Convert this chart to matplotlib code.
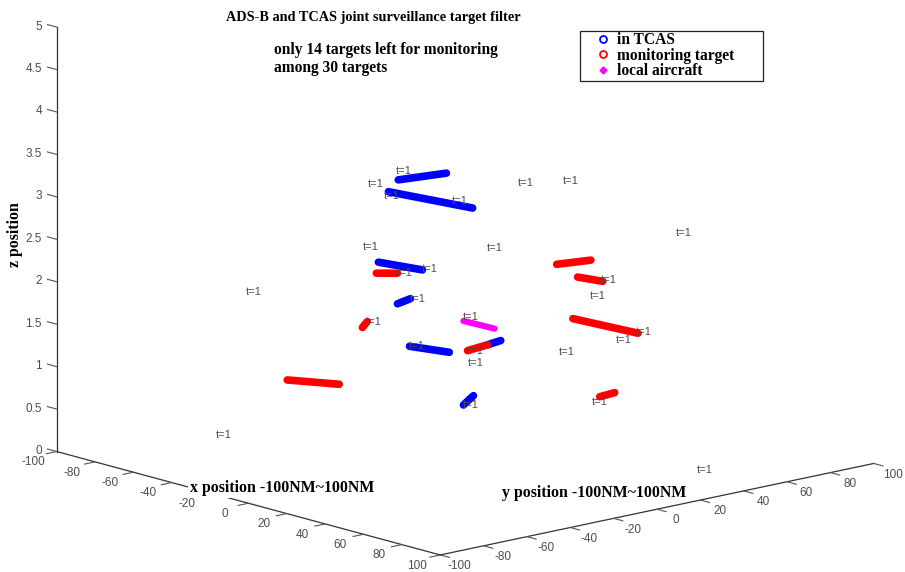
import matplotlib
matplotlib.use("Agg")
import matplotlib.pyplot as plt
from matplotlib.lines import Line2D
from matplotlib.patches import Rectangle

plt.rcParams["axes.unicode_minus"] = False

W, H = 905, 572

title = "ADS-B and TCAS joint surveillance target filter"
note = ["only 14 targets left for monitoring", "among 30 targets"]
legend_labels = ["in TCAS", "monitoring target", "local aircraft"]

x_ticks = [-100, -80, -60, -40, -20, 0, 20, 40, 60, 80, 100]
y_ticks = [-100, -80, -60, -40, -20, 0, 20, 40, 60, 80, 100]
z_ticks = [0, 0.5, 1, 1.5, 2, 2.5, 3, 3.5, 4, 4.5, 5]
z_tick_labels = ["0", "0.5", "1", "1.5", "2", "2.5", "3", "3.5", "4", "4.5", "5"]

# tracks: start and end of each target
blue_x = [(-20.9, -9.8), (-23.2, -3.7), (-25.5, -15.3), (-21.1, -18.1), (-18.3, -9.1), (-0.2, 2.8), (-5.8, -3.5)]
blue_y = [(-12.4, 0.0), (-14.9, 6.7), (-17.5, -6.2), (-12.6, -9.3), (-9.5, 0.7), (10.5, 13.9), (4.3, 6.9)]
blue_z = [(3.21, 3.29), (3.07, 2.88), (2.24, 2.15), (1.75, 1.81), (1.25, 1.18), (1.27, 1.32), (0.56, 0.67)]

red_x = [(-26.0, -21.1), (-29.2, -28.1), (-4.9, -0.2), (-46.6, -34.6), (15.8, 23.7), (20.6, 26.4), (19.5, 34.6), (25.7, 29.2)]
red_y = [(-18.0, -12.6), (-21.6, -20.3), (5.4, 10.5), (-40.9, -27.5), (28.2, 37.0), (33.6, 40.1), (32.4, 49.1), (39.3, 43.1)]
red_z = [(2.11, 2.11), (1.47, 1.54), (1.20, 1.27), (0.85, 0.80), (2.22, 2.27), (2.07, 2.02), (1.58, 1.41), (0.66, 0.71)]

local_x = [-5.8, 1.4]
local_y = [4.3, 12.3]
local_z = [1.55, 1.46]

# "t=1" labels
label_x = [-19.7, -26.2, -22.5, -6.7, 8.6, 19.0, 45.2, -27.2, 1.4, -54.3, -13.7, -19.5, -16.5, -26.7,
           -4.2, -16.7, -3.0, -3.0, -4.2, 27.8, 25.3, 36.0, 31.3, 18.1, 25.7, -61.3, 87.2]
label_y = [-11.1, -18.3, -14.2, 3.3, 20.3, 31.8, 60.9, -19.3, 12.3, -49.4, -4.4, -10.8, -7.5, -18.8,
           6.1, -7.7, 7.4, 7.4, 6.1, 41.6, 38.8, 50.6, 45.5, 30.8, 39.3, -57.1, 33.4]
label_z = [3.31, 3.16, 3.02, 2.96, 3.18, 3.20, 2.59, 2.42, 2.41, 1.88, 2.16, 2.11, 1.81, 1.53,
           1.60, 1.25, 1.20, 1.05, 0.56, 2.04, 1.85, 1.42, 1.33, 1.19, 0.60, 0.20, 0.20]

serif = "Liberation Serif"
sans = "Liberation Sans"
gray = "#4d4d4d"

fig = plt.figure(figsize=(W / 100, H / 100), dpi=100, facecolor="white")
ax = fig.add_axes([5 / W, 33 / H, 1, 1], projection="3d", computed_zorder=False)
ax.set_proj_type("ortho")
ax.view_init(elev=13.8, azim=-41.5)
ax.set_box_aspect((1, 1, 0.755), zoom=1.575)
ax.set_facecolor("none")

ax.set_xlim(-100, 100)
ax.set_ylim(-100, 100)
ax.set_zlim(0, 5)
ax.set_xticks(x_ticks)
ax.set_yticks(y_ticks)
ax.set_zticks(z_ticks)
ax.set_xticklabels([])
ax.set_yticklabels([])
ax.set_zticklabels([])
ax.grid(False)

for axis in (ax.xaxis, ax.yaxis, ax.zaxis):
    axis.pane.set_visible(False)
    axis.line.set_color("#333333")
    axis.line.set_linewidth(0.9)
    axis._axinfo["tick"]["inward_factor"] = 0.3
    axis._axinfo["tick"]["outward_factor"] = 0.0
    axis._axinfo["tick"]["color"] = "#555555"
ax.zaxis.set_ticks_position("lower")
# z ticks lean along the x direction in the original
ax.zaxis._get_tickdir = lambda *args: 0
ax.zaxis._axinfo["tick"]["inward_factor"] = 0.0
ax.zaxis._axinfo["tick"]["outward_factor"] = 0.3
ax.tick_params(color="#555555")

# tick labels as text next to the tick ends
for v in x_ticks:
    ax.text(v, -110.7, 0, str(v), fontsize=8.5, family=sans, color=gray, ha="center", va="top")
for v in y_ticks:
    ax.text(110, v, 0, str(v), fontsize=8.5, family=sans, color=gray, ha="center", va="top")
for v, s in zip(z_ticks, z_tick_labels):
    ax.text(-104, -103.3, v, s, fontsize=8.5, family=sans, color=gray, ha="right", va="center")

# thick tracks
for xs, ys, zs in zip(blue_x, blue_y, blue_z):
    ax.plot(xs, ys, zs, color="#0000ff", lw=5.5, solid_capstyle="round", zorder=2)
for xs, ys, zs in zip(red_x, red_y, red_z):
    ax.plot(xs, ys, zs, color="#ff0000", lw=5.5, solid_capstyle="round", zorder=3)
ax.plot(local_x, local_y, local_z, color="#ff00ff", lw=4.5, solid_capstyle="round", zorder=4)

for x, y, z in zip(label_x, label_y, label_z):
    ax.text(x, y, z, "t=1", fontsize=8, family=sans, color=gray, ha="center", va="center", zorder=5)


def put(px, py, s, **kw):
    return fig.text(px / W, 1 - py / H, s, family=serif, weight="bold", color="black", **kw)


put(226, 17, title, fontsize=10.3, va="center")
put(274, 50, note[0], fontsize=11.2, va="center")
put(274, 68, note[1], fontsize=11.2, va="center")
put(190, 488, "x position -100NM~100NM", fontsize=11.4, va="center",
    bbox=dict(facecolor="white", edgecolor="none", pad=1.5))
put(502, 493, "y position -100NM~100NM", fontsize=11.4, va="center")
put(15, 235, "z position", fontsize=11.4, va="center", ha="center", rotation=90)

# legend box drawn on the figure
fig.add_artist(Rectangle((580 / W, 1 - 81 / H), 183 / W, 50 / H, transform=fig.transFigure,
                         facecolor="white", edgecolor="#222222", lw=0.9, zorder=3))
handles = [
    Line2D([], [], ls="none", marker="o", mfc="none", mec="#0000ff", mew=1.3, ms=5),
    Line2D([], [], ls="none", marker="o", mfc="none", mec="#ff0000", mew=1.3, ms=5),
    Line2D([], [], ls="none", marker="D", mfc="#ff00ff", mec="#ff00ff", ms=3.5),
]
leg = fig.legend(handles, legend_labels, loc="upper left", bbox_to_anchor=(592.5 / W, 1 - 29 / H),
                 frameon=False, borderpad=0.2, borderaxespad=0, handlelength=1, handletextpad=0.35,
                 labelspacing=-0.03, prop=dict(family=serif, weight="bold", size=11.2))
leg.set_zorder(4)

fig.savefig("out.png", dpi=100)
